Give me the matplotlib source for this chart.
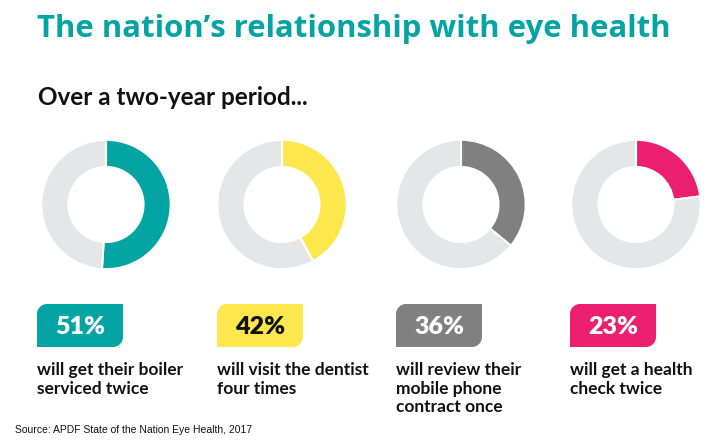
import matplotlib
matplotlib.use("Agg")
import matplotlib.pyplot as plt
from matplotlib.path import Path
from matplotlib.patches import PathPatch

# data
percents = [51, 42, 36, 23]
colors = ["#05a4a4", "#fde74c", "#808080", "#ec1e6f"]
text_colors = ["white", "#111111", "white", "white"]
captions = [
    "will get their boiler\nserviced twice",
    "will visit the dentist\nfour times",
    "will review their\nmobile phone\ncontract once",
    "will get a health\ncheck twice",
]
rest_color = "#e5e6e7"

W, H = 724, 443
fig = plt.figure(figsize=(W / 100, H / 100), dpi=100)
ax = fig.add_axes([0, 0, 1, 1])
ax.set_xlim(0, W)
ax.set_ylim(H, 0)
ax.axis("off")

font = "Lato"

ax.text(37, 37, "The nation\u2019s relationship with eye health", color="#05a4a4",
        fontsize=22.4, fontweight="bold", family="Open Sans", va="baseline")
ax.text(38, 105, "Over a two-year period...", color="#111111",
        fontsize=17.5, fontweight="bold", family=font, va="baseline")

centers = [106, 282, 461, 636]
cy = 204.5
r = 66
box_left = [37, 217, 396, 570]
bw, bh = 86, 43
by = 304


def leaf_box(x, y, w, h, rad, color):
    # square top-right and bottom-left, rounded top-left and bottom-right
    k = 0.5523 * rad
    verts = [
        (x, y + rad),
        (x, y + rad - k), (x + rad - k, y), (x + rad, y),
        (x + w, y),
        (x + w, y + h - rad),
        (x + w, y + h - rad + k), (x + w - rad + k, y + h), (x + w - rad, y + h),
        (x, y + h),
        (x, y + rad),
    ]
    codes = [Path.MOVETO,
             Path.CURVE4, Path.CURVE4, Path.CURVE4,
             Path.LINETO, Path.LINETO,
             Path.CURVE4, Path.CURVE4, Path.CURVE4,
             Path.LINETO, Path.CLOSEPOLY]
    ax.add_patch(PathPatch(Path(verts, codes), facecolor=color, edgecolor="none"))


for i, p in enumerate(percents):
    cx = centers[i]
    pax = fig.add_axes([(cx - r) / W, 1 - (cy + r) / H, 2 * r / W, 2 * r / H])
    pax.pie([p, 100 - p], colors=[colors[i], rest_color], startangle=90,
            counterclock=False, radius=1,
            wedgeprops=dict(width=0.42, edgecolor="white", linewidth=1.5))
    pax.set_xlim(-1.02, 1.02)
    pax.set_ylim(-1.02, 1.02)
    pax.set_aspect("equal")
    pax.axis("off")

    leaf_box(box_left[i], by, bw, bh, 10, colors[i])
    ax.text(box_left[i] + bw / 2, by + bh / 2 + 1, "{0}%".format(p),
            color=text_colors[i], fontsize=18, fontweight="heavy", family=font,
            ha="center", va="center")
    ax.text(box_left[i], 362, captions[i], color="#111111", fontsize=12.5,
            fontweight="bold", family=font, va="top", linespacing=1.2)

ax.text(15, 433, "Source: APDF State of the Nation Eye Health, 2017", color="#111111",
        fontsize=7.5, family="Liberation Sans", va="baseline")

plt.savefig("out.png", dpi=100)
